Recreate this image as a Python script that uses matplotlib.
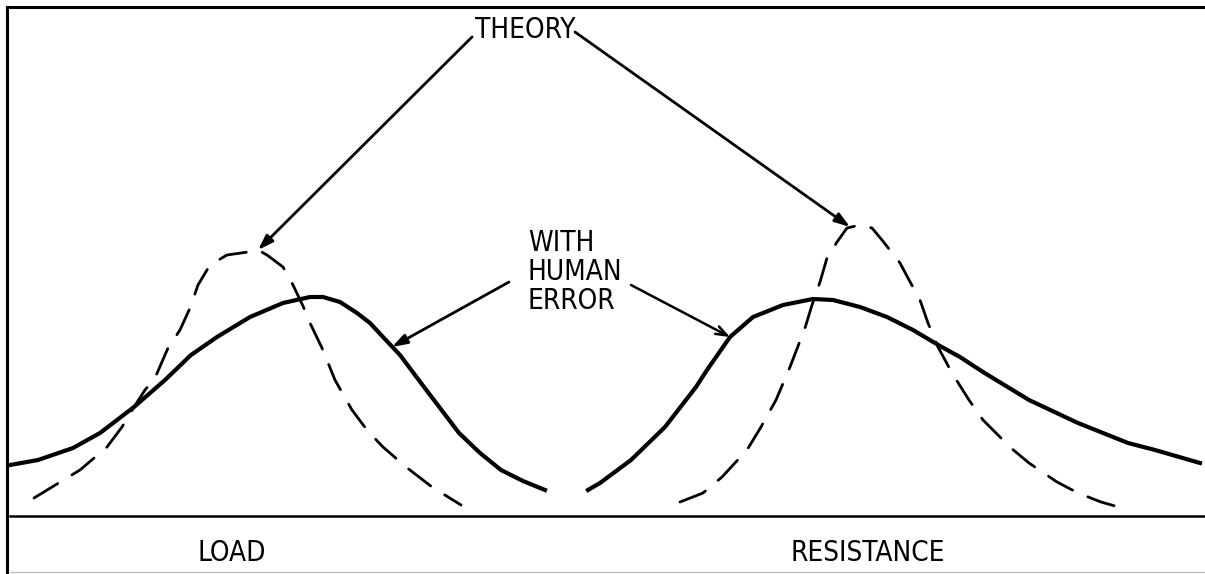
import numpy as np
import matplotlib.pyplot as plt

# baseline of the sketch sits at pixel row 516, heights are measured up from it
base = 516

# solid curve, load side (with human error)
load_err_x = [10, 38, 73, 100, 134, 165, 191, 217, 250, 283, 310, 323, 340, 357, 370, 383, 400, 421, 440, 459, 480, 501, 523, 545]
load_err_y = [465, 460, 448, 433, 407, 380, 355, 337, 317, 303, 297, 297, 302, 313, 323, 337, 355, 383, 408, 433, 453, 470, 481, 490]

# dashed curve, load side (theory)
load_th_x = [34, 57, 80, 107, 122, 134, 145, 155, 168, 180, 190, 198, 210, 227, 248, 258, 267, 283, 292, 303, 310, 322, 335, 352, 367, 383, 406, 432, 461]
load_th_y = [498, 484, 470, 447, 427, 407, 390, 378, 348, 330, 308, 285, 265, 255, 252, 250, 255, 267, 283, 306, 323, 348, 380, 410, 430, 447, 467, 487, 505]

# solid curve, resistance side
res_err_x = [588, 600, 631, 665, 696, 707, 730, 753, 783, 813, 833, 860, 887, 913, 940, 960, 983, 1029, 1078, 1128, 1155, 1200]
res_err_y = [490, 483, 460, 427, 387, 370, 337, 317, 305, 299, 300, 307, 317, 330, 346, 357, 372, 400, 423, 443, 450, 463]

# dashed curve, resistance side
res_th_x = [680, 703, 722, 747, 761, 776, 790, 805, 812, 820, 827, 837, 847, 860, 872, 882, 900, 908, 920, 928, 938, 952, 969, 983, 1011, 1029, 1057, 1078, 1101, 1122]
res_th_y = [502, 493, 477, 450, 427, 400, 367, 328, 305, 282, 258, 242, 228, 225, 228, 240, 263, 278, 300, 323, 347, 373, 400, 420, 448, 463, 482, 493, 502, 508]

h = lambda ys: [base - v for v in ys]

fig = plt.figure(figsize=(12.05, 5.74), dpi=100)
ax = fig.add_axes([0, 0, 1, 1])
ax.set_xlim(0, 1205)
ax.set_ylim(base - 574, base)
ax.axis('off')

font = dict(family='DejaVu Sans', fontstretch='condensed', fontsize=20)

# frame and baseline
ax.plot([6, 1205], [base - 7, base - 7], color='k', lw=2.2, solid_capstyle='butt')
ax.plot([7, 7], [base - 7, base - 574], color='k', lw=2.2)
ax.plot([10, 1205], [0, 0], color='k', lw=1.8)
ax.plot([10, 1205], [base - 572, base - 572], color='0.75', lw=1.0)

ax.plot(load_err_x, h(load_err_y), color='k', lw=3.0, solid_joinstyle='round')
ax.plot(res_err_x, h(res_err_y), color='k', lw=3.0, solid_joinstyle='round')
ax.plot(load_th_x, h(load_th_y), color='k', lw=2.0, linestyle=(0, (10, 6)), dash_capstyle='round')
ax.plot(res_th_x, h(res_th_y), color='k', lw=2.0, linestyle=(0, (10, 6)), dash_capstyle='round')

ax.text(525, base - 30, 'THEORY', ha='center', va='center', **font)
ax.text(528, base - 272, 'WITH\nHUMAN\nERROR', ha='left', va='center', linespacing=1.05, **font)
ax.text(232, base - 553, 'LOAD', ha='center', va='center', **font)
ax.text(868, base - 553, 'RESISTANCE', ha='center', va='center', **font)

filled = dict(arrowstyle='-|>,head_length=0.9,head_width=0.3', color='k', lw=2.0, shrinkA=0, shrinkB=0)
ax.annotate('', xy=(258, base - 250), xytext=(472, base - 37), arrowprops=filled)
ax.annotate('', xy=(850, base - 227), xytext=(575, base - 32), arrowprops=filled)
ax.annotate('', xy=(392, base - 347), xytext=(509, base - 282), arrowprops=filled)
ax.annotate('', xy=(730, base - 337), xytext=(631, base - 285),
            arrowprops=dict(arrowstyle='->,head_length=0.8,head_width=0.3', color='k', lw=1.8,
                            shrinkA=0, shrinkB=0))

fig.savefig('out.png', dpi=100)
